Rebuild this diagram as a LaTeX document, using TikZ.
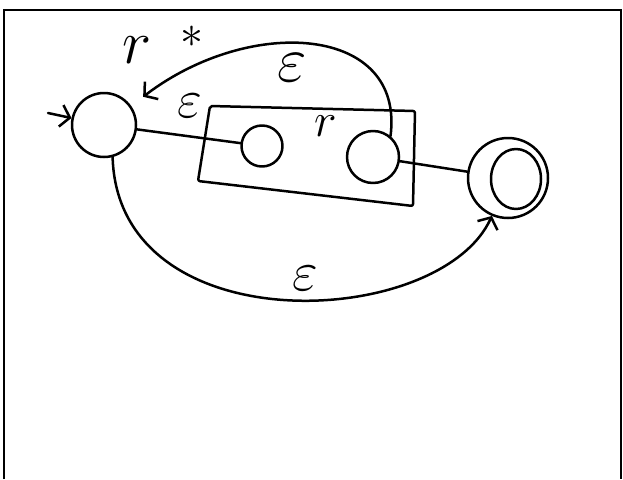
\RequirePackage{fix-cm}
\documentclass[tikz,border=0pt]{standalone}
\usepackage{amsmath}
\usepackage{tikz}
\usetikzlibrary{arrows.meta}

\tikzset{
  pen/.style={line width=2.5pt, line cap=round, line join=round},
  state/.style={pen, draw, circle, inner sep=0pt},
  barb/.style={-{Straight Barb[length=9pt,width=22pt,line width=2.5pt]}},
  hand/.style={inner sep=0pt, font=\fontsize{#1}{#1}\selectfont},
}

\begin{document}
\begin{tikzpicture}[x=1pt, y=-1pt]
\useasboundingbox (0,0) rectangle (623,479);
% frame of the page
\draw[line width=2.5pt] (4,479) -- (4,10) -- (621,10) -- (621,479);

% states
\node[state, minimum size=64pt] (s0) at (104,125) {};
\node[state, minimum size=41pt] (p1) at (262,146) {};
\node[state, minimum size=52pt] (p2) at (373,157) {};
\node[state, minimum size=80pt] (f) at (508,178) {};
\draw[pen] (516,179) ellipse (25pt and 30pt);

% box round r
\draw[pen, rounded corners=2pt] (210,106) -- (415,111) -- (413,206) -- (198,181) -- cycle;

% connectors
\coordinate (in) at (48,113);
\draw[pen, barb] (in) -- (s0);
\draw[pen] (s0) -- (p1);
\draw[pen] (p2) -- (f);
\draw[pen, barb, shorten >=15pt] (p2.50) .. controls (405,25) and (250,15) .. (s0.35);
\draw[pen, barb] (s0.-75) .. controls (118,345) and (440,330) .. (f.-113);

% labels
\node[hand=54] (eps1) at (190,106) {$\varepsilon$};
\node[hand=64] (eps2) at (292,68) {$\varepsilon$};
\node[hand=56] (eps3) at (305,278) {$\varepsilon$};
\node[hand=48] (r1) at (326,126) {$r$};
\node[hand=62] (r0) at (137,50) {$r$};
\node[hand=46] (st) at (192,37) {$\ast$};
\end{tikzpicture}
\end{document}
